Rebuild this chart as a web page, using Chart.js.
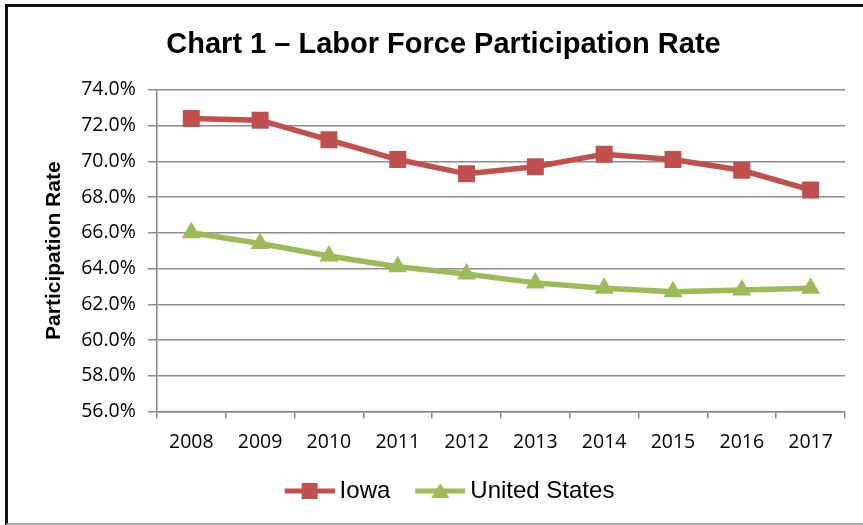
<!DOCTYPE html>
<html>
<head>
<meta charset="utf-8">
<script src="https://cdn.jsdelivr.net/npm/chart.js@4.4.1/dist/chart.umd.min.js"></script>
<style>
  html, body { margin: 0; padding: 0; background: #fff; }
  #wrap { position: relative; width: 863px; height: 525px; }
  #grafico { position: absolute; left: 0; top: 0; }
  #frame {
    position: absolute; left: 5px; top: 4px; width: 858px; height: 516px;
    border-top: 3px solid #111; border-left: 3px solid #111; border-bottom: 2px solid #aaa;
    pointer-events: none;
  }
</style>
</head>
<body>
<div id="wrap">
  <canvas id="grafico" width="863" height="525"></canvas>
  <div id="frame"></div>
</div>
<script>
// dati
var anni = ['2008', '2009', '2010', '2011', '2012', '2013', '2014', '2015', '2016', '2017'];
var iowa = [72.4, 72.3, 71.2, 70.1, 69.3, 69.7, 70.4, 70.1, 69.5, 68.4];
var statiUniti = [66.0, 65.4, 64.7, 64.1, 63.7, 63.2, 62.9, 62.7, 62.8, 62.9];
var yMin = 56;
var yMax = 74;
var yPasso = 2;

var rosso = '#C0504D';
var verde = '#9BBB59';

// piccola immagine per la legenda: linea + marcatore
// (parte sinistra trasparente, cosi' il testo resta vicino alla linea)
function iconaLegenda(colore, forma) {
  var c = document.createElement('canvas');
  c.width = 69;
  c.height = 20;
  var g = c.getContext('2d');
  g.strokeStyle = colore;
  g.lineWidth = 5;
  g.beginPath();
  g.moveTo(19, 10);
  g.lineTo(69, 10);
  g.stroke();
  g.fillStyle = colore;
  if (forma === 'rect') {
    g.fillRect(36, 2, 16, 16);
  } else {
    g.beginPath();
    g.moveTo(44, 2);
    g.lineTo(53, 17);
    g.lineTo(35, 17);
    g.closePath();
    g.fill();
  }
  return c;
}

var icone = [iconaLegenda(rosso, 'rect'), iconaLegenda(verde, 'triangle')];

var ctx = document.getElementById('grafico').getContext('2d');

var grafico = new Chart(ctx, {
  type: 'line',
  data: {
    labels: anni,
    datasets: [{
      label: 'Iowa',
      data: iowa,
      borderColor: rosso,
      backgroundColor: rosso,
      borderWidth: 5.5,
      pointStyle: 'rect',
      pointRadius: 12,
      pointBorderWidth: 0,
      tension: 0
    }, {
      label: 'United States',
      data: statiUniti,
      borderColor: verde,
      backgroundColor: verde,
      borderWidth: 5.5,
      pointStyle: 'triangle',
      pointRadius: 11,
      pointBorderWidth: 0,
      tension: 0
    }]
  },
  options: {
    responsive: false,
    animation: false,
    layout: {
      padding: { left: 42, right: 18, top: 0, bottom: 12 }
    },
    plugins: {
      tooltip: { enabled: false },
      title: {
        display: true,
        text: 'Chart 1 \u2013 Labor Force Participation Rate',
        color: '#000',
        font: { family: 'Liberation Sans, Arial, sans-serif', size: 29, weight: 'bold' },
        padding: { top: 28, bottom: 27 }
      },
      legend: {
        position: 'bottom',
        labels: {
          color: '#000',
          font: { family: 'Liberation Sans, Arial, sans-serif', size: 24 },
          usePointStyle: true,
          pointStyleWidth: 55,
          padding: 13,
          generateLabels: function (chart) {
            return chart.data.datasets.map(function (ds, i) {
              return {
                text: ds.label,
                pointStyle: icone[i],
                fillStyle: ds.borderColor,
                strokeStyle: ds.borderColor,
                lineWidth: 0,
                datasetIndex: i,
                fontColor: '#000'
              };
            });
          }
        }
      }
    },
    scales: {
      x: {
        offset: true,
        grid: {
          offset: true,
          drawOnChartArea: false,
          drawTicks: true,
          tickLength: 7,
          color: '#888',
          lineWidth: 1.5
        },
        border: { color: '#888', width: 1.5 },
        ticks: {
          color: '#000',
          padding: 12,
          maxRotation: 0,
          font: { family: 'Open Sans, sans-serif', size: 19.5 }
        }
      },
      y: {
        min: yMin,
        max: yMax,
        grid: {
          color: '#8c8c8c',
          lineWidth: 1.5,
          tickLength: 9
        },
        border: { color: '#888', width: 1.5 },
        ticks: {
          stepSize: yPasso,
          color: '#000',
          padding: 12,
          font: { family: 'Open Sans, sans-serif', size: 19.5 },
          callback: function (v) { return v.toFixed(1) + '%'; }
        },
        title: {
          display: true,
          text: 'Participation Rate',
          color: '#000',
          font: { family: 'Liberation Sans, Arial, sans-serif', size: 21, weight: 'bold' },
          padding: { top: 0, bottom: 2 }
        }
      }
    }
  }
});
</script>
</body>
</html>
